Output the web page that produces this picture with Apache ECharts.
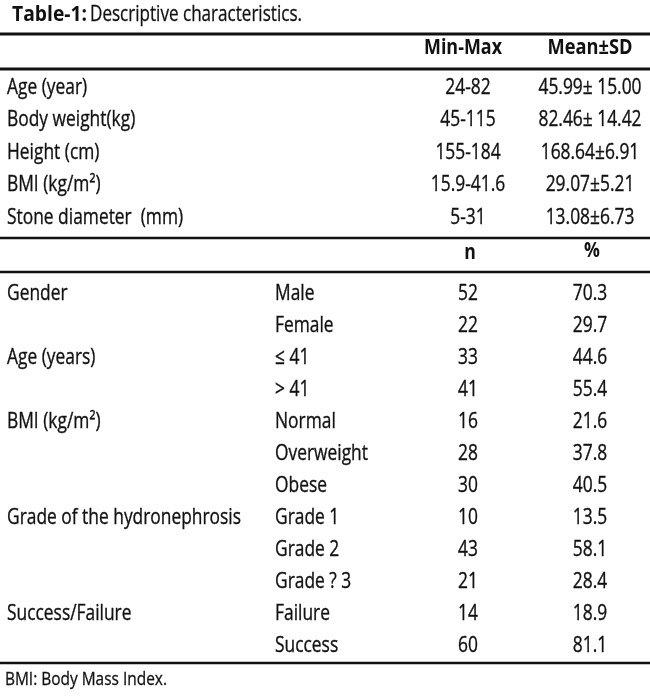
<html lang="en">
<head>
    <meta charset="UTF-8">
    <title>Table-1: Descriptive characteristics</title>
    <script src="https://cdn.jsdelivr.net/npm/echarts@6.0.0/dist/echarts.min.js"></script>
    <style>
        html, body { margin: 0; padding: 0; background: #fff; }
    </style>
</head>
<body>
    <div id="main" style="width: 650px;height:698px;"></div>
    <script type="text/javascript">
        // table contents
        var topRows = ['Age (year)', 'Body weight(kg)', 'Height (cm)', 'BMI (kg/m\u00b2)', 'Stone diameter  (mm)'];
        var minMax = ['24-82', '45-115', '155-184', '15.9-41.6', '5-31'];
        var meanSd = ['45.99\u00b1 15.00', '82.46\u00b1 14.42', '168.64\u00b16.91', '29.07\u00b15.21', '13.08\u00b16.73'];

        var groups = ['Gender', '', 'Age (years)', '', 'BMI (kg/m\u00b2)', '', '', 'Grade of the hydronephrosis', '', '', 'Success/Failure', ''];
        var levels = ['Male', 'Female', '\u2264 41', '> 41', 'Normal', 'Overweight', 'Obese', 'Grade 1', 'Grade 2', 'Grade ? 3', 'Failure', 'Success'];
        var counts = [52, 22, 33, 41, 16, 28, 30, 10, 43, 21, 14, 60];
        var percents = ['70.3', '29.7', '44.6', '55.4', '21.6', '37.8', '40.5', '13.5', '58.1', '28.4', '18.9', '81.1'];

        var topHeaders = ['Min-Max', 'Mean\u00b1SD'];
        var bottomHeaders = ['n', '%'];
        var titleBold = 'Table-1:';
        var titleRest = 'Descriptive characteristics.';
        var footnote = 'BMI: Body Mass Index.';

        var font = '"Open Sans", "Noto Sans", sans-serif';
        var ink = '#111';
        var fs = 22;
        var squeeze = 0.79;   // the source uses a condensed face

        // column anchors on the hidden x scale (0..650)
        var colLeft1 = 7, colLeft2 = 275, colMid3 = 468, colMid4 = 590;

        var myChart = echarts.init(document.getElementById('main'));

        // horizontal scale needed to fit a string into a given width
        var ctx = document.createElement('canvas').getContext('2d');
        function fitScale(t, f, w) {
            ctx.font = f;
            return w / ctx.measureText(t).width;
        }

        // one column of cells, placed through the grid's scales
        function cellColumn(grid, x, texts, align) {
            var rows = texts.map(function (t, i) { return [x, i]; });
            return {
                type: 'custom',
                coordinateSystem: 'cartesian2d',
                xAxisIndex: grid,
                yAxisIndex: grid,
                silent: true,
                data: rows,
                renderItem: function (params, api) {
                    var t = String(texts[params.dataIndex]);
                    if (!t) return null;
                    var p = api.coord([api.value(0), api.value(1)]);
                    return {
                        type: 'text',
                        x: p[0],
                        y: p[1],
                        scaleX: squeeze,
                        style: {
                            text: t,
                            fill: ink,
                            stroke: ink,
                            lineWidth: 0.35,
                            font: fs + 'px ' + font,
                            align: align,
                            verticalAlign: 'middle'
                        }
                    };
                }
            };
        }

        function hline(y, w) {
            return {
                type: 'rect',
                shape: { x: 0, y: y - w / 2, width: 650, height: w },
                style: { fill: ink },
                silent: true
            };
        }

        function headText(x, y, t, f, align, sx, sw) {
            return {
                type: 'text',
                x: x, y: y,
                scaleX: sx,
                style: {
                    text: t,
                    fill: ink,
                    stroke: ink,
                    lineWidth: sw || 0,
                    font: f,
                    align: align || 'center',
                    verticalAlign: 'middle'
                },
                silent: true
            };
        }

        var topIdx = topRows.map(function (r, i) { return i; });
        var botIdx = levels.map(function (r, i) { return i; });

        var boldHead = 'bold 21px ' + font;
        var titleBoldFont = 'bold 22px ' + font;
        var titleFont = '22px ' + font;
        var noteFont = '19px ' + font;

        var option = {
            backgroundColor: '#fff',
            animation: false,
            grid: [
                { left: 0, right: 0, top: 71, height: 162.5 },
                { left: 0, right: 0, top: 278, height: 384 }
            ],
            xAxis: [
                { type: 'value', gridIndex: 0, min: 0, max: 650, show: false },
                { type: 'value', gridIndex: 1, min: 0, max: 650, show: false }
            ],
            yAxis: [
                { type: 'category', gridIndex: 0, inverse: true, data: topIdx, show: false },
                { type: 'category', gridIndex: 1, inverse: true, data: botIdx, show: false }
            ],
            series: [
                cellColumn(0, colLeft1, topRows, 'left'),
                cellColumn(0, colMid3, minMax, 'center'),
                cellColumn(0, colMid4, meanSd, 'center'),
                cellColumn(1, colLeft1, groups, 'left'),
                cellColumn(1, colLeft2, levels, 'left'),
                cellColumn(1, colMid3, counts, 'center'),
                cellColumn(1, colMid4, percents, 'center')
            ],
            graphic: [
                headText(12, 15, titleBold, titleBoldFont, 'left', fitScale(titleBold, titleBoldFont, 75)),
                headText(90, 15, titleRest, titleFont, 'left', fitScale(titleRest, titleFont, 212), 0.3),
                hline(34, 3),
                hline(69, 3),
                hline(238, 2.5),
                hline(272, 2.5),
                hline(663, 2.5),
                headText(463, 48, topHeaders[0], boldHead, 'center', fitScale(topHeaders[0], boldHead, 78)),
                headText(590, 48, topHeaders[1], boldHead, 'center', fitScale(topHeaders[1], boldHead, 85)),
                headText(colMid3 + 2, 253, bottomHeaders[0], boldHead, 'center', 0.84),
                headText(colMid4 + 2, 251, bottomHeaders[1], boldHead, 'center', 0.84),
                headText(5, 680, footnote, noteFont, 'left', fitScale(footnote, noteFont, 162), 0.3)
            ]
        };

        myChart.setOption(option);
    </script>
</body>
</html>
